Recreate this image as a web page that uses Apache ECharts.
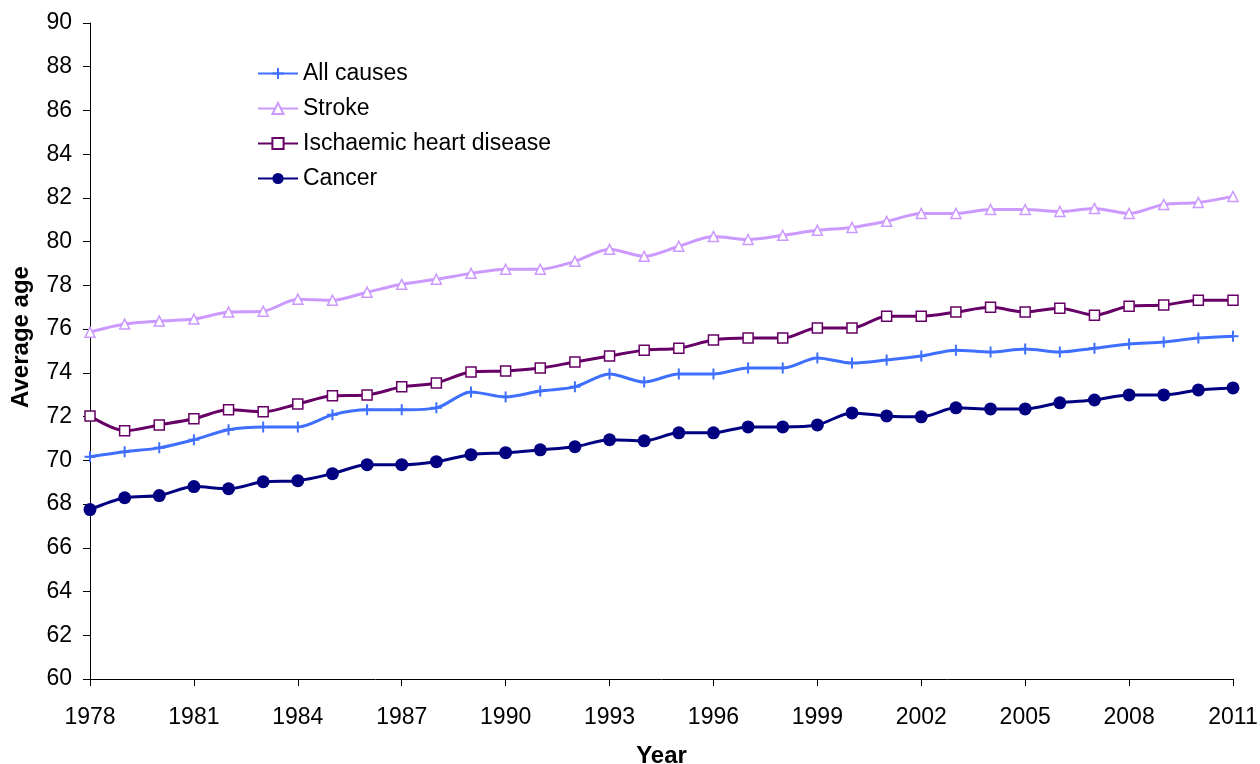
<!DOCTYPE html>
<html>
<head>
<meta charset="utf-8">
<script src="https://cdn.jsdelivr.net/npm/echarts@6/dist/echarts.min.js"></script>
<style>
  html, body { margin: 0; padding: 0; background: #ffffff; }
  #chart { width: 1260px; height: 764px; }
</style>
</head>
<body>
<div id="chart"></div>
<script>
const years = [];
for (let y = 1978; y <= 2011; y++) years.push(String(y));

const allCauses = [70.16, 70.39, 70.57, 70.94, 71.40, 71.53, 71.53, 72.08, 72.31, 72.31,
  72.40, 73.13, 72.90, 73.17, 73.36, 73.95, 73.58, 73.95, 73.95, 74.22,
  74.22, 74.68, 74.45, 74.59, 74.77, 75.04, 74.95, 75.09, 74.95, 75.13,
  75.32, 75.41, 75.59, 75.68];
const stroke = [75.86, 76.23, 76.37, 76.46, 76.78, 76.82, 77.37, 77.32, 77.69, 78.05,
  78.28, 78.55, 78.74, 78.74, 79.10, 79.65, 79.33, 79.79, 80.24, 80.10,
  80.29, 80.52, 80.65, 80.93, 81.29, 81.29, 81.47, 81.47, 81.38, 81.52,
  81.29, 81.70, 81.79, 82.07];
const ihd = [72.03, 71.35, 71.62, 71.90, 72.31, 72.22, 72.58, 72.95, 72.99, 73.36,
  73.54, 74.04, 74.09, 74.22, 74.50, 74.77, 75.04, 75.13, 75.50, 75.59,
  75.59, 76.05, 76.05, 76.59, 76.59, 76.78, 77.00, 76.78, 76.96, 76.64,
  77.05, 77.10, 77.32, 77.32];
const cancer = [67.75, 68.29, 68.39, 68.80, 68.70, 69.02, 69.07, 69.39, 69.80, 69.80,
  69.94, 70.26, 70.35, 70.48, 70.62, 70.94, 70.89, 71.26, 71.26, 71.53,
  71.53, 71.62, 72.17, 72.03, 71.99, 72.40, 72.35, 72.35, 72.63, 72.76,
  72.99, 72.99, 73.22, 73.31];

const font = "'Liberation Sans', Arial, sans-serif";
const chart = echarts.init(document.getElementById("chart"));

const plusSymbol = "path://M5,0L5,10M0,5L10,5";

chart.setOption({
  animation: false,
  textStyle: { fontFamily: font },
  grid: { left: 90, right: 27, top: 23, bottom: 85, containLabel: false, outerBoundsMode: "none" },
  legend: {
    orient: "vertical",
    left: 252,
    top: 57,
    itemWidth: 40,
    itemHeight: 14,
    itemGap: 12,
    textStyle: { fontSize: 23, color: "#000", fontFamily: font },
    data: ["All causes", "Stroke", "Ischaemic heart disease", "Cancer"]
  },
  xAxis: {
    type: "category",
    data: years,
    boundaryGap: false,
    name: "Year",
    nameLocation: "middle",
    nameGap: 65,
    nameTextStyle: { fontSize: 24, fontWeight: "bold", color: "#000" },
    axisLine: { lineStyle: { color: "#000", width: 1 } },
    axisTick: { interval: 2, length: 7, lineStyle: { color: "#000" } },
    axisLabel: { interval: 2, fontSize: 23, color: "#000", margin: 27 },
    splitLine: { show: false }
  },
  yAxis: {
    type: "value",
    min: 60,
    max: 90,
    interval: 2,
    name: "Average age",
    nameLocation: "middle",
    nameGap: 57,
    nameTextStyle: { fontSize: 24, fontWeight: "bold", color: "#000", padding: [0, 0, 0, 28] },
    axisLine: { show: true, lineStyle: { color: "#000", width: 1 } },
    axisTick: { show: true, length: 7, lineStyle: { color: "#000" } },
    axisLabel: { fontSize: 23, color: "#000", margin: 18 },
    splitLine: { show: false }
  },
  series: [
    {
      name: "All causes",
      type: "line",
      data: allCauses,
      smooth: 0.3,
      symbol: plusSymbol,
      symbolSize: 11,
      lineStyle: { color: "#3F6FFF", width: 3 },
      itemStyle: { color: "#3F6FFF", borderColor: "#3F6FFF", borderWidth: 2 }
    },
    {
      name: "Stroke",
      type: "line",
      data: stroke,
      smooth: 0.3,
      symbol: "triangle",
      symbolSize: 10,
      lineStyle: { color: "#CC99FF", width: 3 },
      itemStyle: { color: "#ffffff", borderColor: "#CC99FF", borderWidth: 1.5 }
    },
    {
      name: "Ischaemic heart disease",
      type: "line",
      data: ihd,
      smooth: 0.3,
      symbol: "rect",
      symbolSize: 10,
      lineStyle: { color: "#660066", width: 3 },
      itemStyle: { color: "#ffffff", borderColor: "#660066", borderWidth: 1.5 }
    },
    {
      name: "Cancer",
      type: "line",
      data: cancer,
      smooth: 0.3,
      symbol: "circle",
      symbolSize: 13,
      lineStyle: { color: "#000080", width: 3 },
      itemStyle: { color: "#000080", borderWidth: 0 }
    }
  ]
});
</script>
</body>
</html>
